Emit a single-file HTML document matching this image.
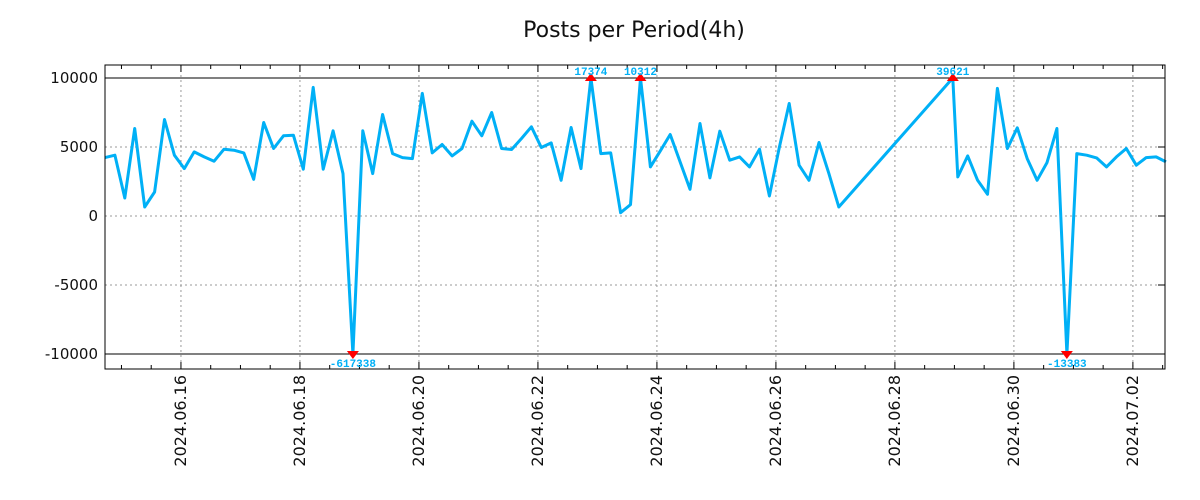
<!DOCTYPE html>
<html><head><meta charset="utf-8"><style>
body{margin:0;background:#fff}
svg{display:block;font-family:"DejaVu Sans","Liberation Sans",sans-serif}
</style></head><body>
<svg id="chart" width="1200" height="500">
<text x="634" y="37" text-anchor="middle" font-size="22" fill="#111">Posts per Period(4h)</text>
<g id="grid"></g><g id="axes"></g><g id="series"></g><g id="marks"></g>
<rect x="105" y="65" width="1060" height="304" fill="none" stroke="#000" stroke-width="1"/>
</svg>
<script>
// slot = 4h period index from start
const preGapValues = [4235,4404,1307,6340,653,1742,6994,4404,3436,4646,4283,3969,4840,4767,4574,2662,6776,4888,5808,5856,3388,9317,3388,6171,3073,-617338,6171,3073,7357,4525,4235,4162,8881,4574,5179,4356,4888,6873,5808,7502,4888,4816,5614,6461,4961,5300,2589,6413,3436,17374,4525,4574,242,823,10312,3557,4719,5905,3920,1936,6703,2759,6147,4041,4283,3557,4840,1452,4961,8155,3678,2589,5324,3073,653];
const peakSlot = 85.5;
const peakValue = 39621;
const postGapValues = [2831,4356,2589,1573,9244,4888,6389,4162,2589,3872,6340,-13383,4525,4404,4211,3557,4283,4888,3678,4235,4283,3920];
const yTicks = [10000,5000,0,-5000,-10000];
const xTickLabels = ["2024.06.16","2024.06.18","2024.06.20","2024.06.22","2024.06.24","2024.06.26","2024.06.28","2024.06.30","2024.07.02"];
const xTickSlots = [7.66,19.66,31.66,43.66,55.66,67.66,79.66,91.66,103.66];

const slots=[],values=[];
preGapValues.forEach((v,i)=>{slots.push(i);values.push(v);});
slots.push(peakSlot);values.push(peakValue);
postGapValues.forEach((v,i)=>{slots.push(86+i);values.push(v);});

const NS="http://www.w3.org/2000/svg";
const X=s=>105+s*9.916;
const Y=v=>216-v*0.0138;
const CL=10000;
function el(t,a,p){const e=document.createElementNS(NS,t);for(const k in a)e.setAttribute(k,a[k]);document.getElementById(p).appendChild(e);return e;}

yTicks.forEach(v=>{
  const y=Y(v);
  let l;
  if(Math.abs(v)===CL) l=el('line',{x1:105,x2:1165,y1:y,y2:y,stroke:'#000','stroke-width':1},'grid');
  else l=el('line',{x1:105,x2:1165,y1:y,y2:y,stroke:'#999','stroke-dasharray':'2,3','stroke-width':1},'grid');
  
  
  const t=el('text',{x:98,y:y+5,'text-anchor':'end','font-size':15,fill:'#111'},'axes');
  t.textContent=v;
  
  
  const tk=el('line',{x1:1158,x2:1165,y1:y,y2:y,stroke:'#000'},'axes');
  
  
});
xTickSlots.forEach((s,i)=>{
  const x=X(s);
  const g=el('line',{x1:x,x2:x,y1:65,y2:369,stroke:'#999','stroke-dasharray':'2,3'},'grid');
  
  
  const t=el('text',{x:0,y:0,'text-anchor':'end','font-size':16,fill:'#111',transform:`translate(${x+5},375) rotate(-90)`},'axes');
  t.textContent=xTickLabels[i];
  
  
});
for(let s=xTickSlots[0]-6;s<107;s+=3){
  const x=X(s); if(x<106||x>1164) continue;
  const major=xTickSlots.some(m=>Math.abs(m-s)<0.1);
  const len=major?7:4;
  const a=el('line',{x1:x,x2:x,y1:65,y2:65+len,stroke:'#000'},'axes');
  
  
  const b=el('line',{x1:x,x2:x,y1:369,y2:369-len,stroke:'#000'},'axes');
  
  
}
const pts=slots.map((s,i)=>X(s).toFixed(1)+','+Y(Math.max(-CL,Math.min(CL,values[i]))).toFixed(1)).join(' ');
const line=el('polyline',{points:pts,fill:'none',stroke:'#00b0f6','stroke-width':3,'stroke-linejoin':'round'},'series');


slots.forEach((s,i)=>{
  const v=values[i]; if(Math.abs(v)<=CL) return;
  const x=X(s), up=v>0, y=Y(up?CL:-CL);
  const tri=el('polygon',{points:up?`${x-6},${y+3} ${x+6},${y+3} ${x},${y-5}`:`${x-6},${y-3} ${x+6},${y-3} ${x},${y+5}`,fill:'#f00'},'marks');
  
  
  const t=el('text',{x:x,y:up?y-3:y+13,'text-anchor':'middle','font-size':11,'font-weight':'bold','font-family':'"Liberation Mono",monospace',fill:'#00b0f6'},'marks');
  t.textContent=v;
  
  
});
</script>
</body></html>
